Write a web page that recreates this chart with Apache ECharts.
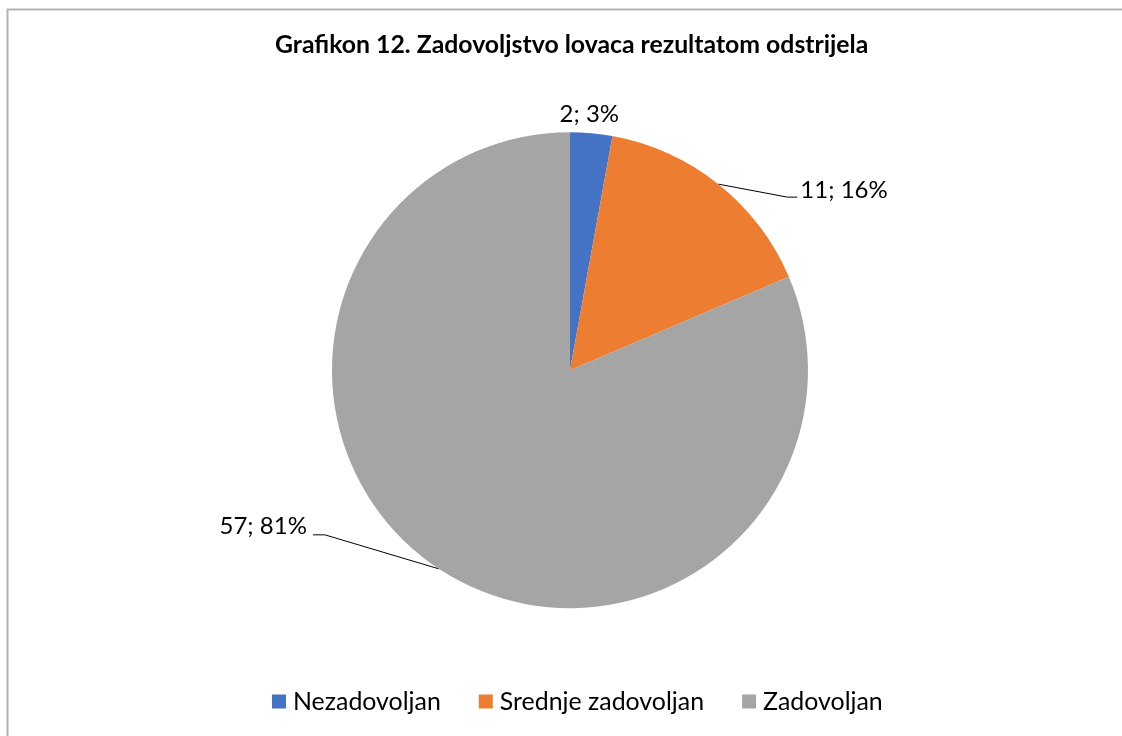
<!DOCTYPE html>
<html>
<head>
<meta charset="utf-8">
<script src="https://cdn.jsdelivr.net/npm/echarts@6/dist/echarts.min.js"></script>
<style>
  html, body { margin: 0; padding: 0; background: #fff; }
  #chart { width: 1122px; height: 736px; }
</style>
</head>
<body>
<div id="chart"></div>
<script>
// podaci s grafikona
const titleText = 'Grafikon 12. Zadovoljstvo lovaca rezultatom odstrijela'
const categories = ['Nezadovoljan', 'Srednje zadovoljan', 'Zadovoljan']
const counts = [2, 11, 57]
const percents = [3, 16, 81]
const colors = ['#4472C4', '#ED7D31', '#A5A5A5']

const fontFamily = 'Lato, "Open Sans", sans-serif'

// pomak natpisa i linije u odnosu na tocku na rubu kruga
const labelOffsets = [
  { x: -2, y: -19, align: 'center', line: null },
  { x: 82, y: 6, align: 'left', line: [[69, 13], [79, 13]] },
  { x: -132, y: -43, align: 'right', line: [[-114, -34], [-126, -34]] }
]

const chart = echarts.init(document.getElementById('chart'))

const option = {
  backgroundColor: '#fff',
  color: colors,
  animation: false,
  graphic: [
    {
      type: 'rect',
      shape: { x: 7.5, y: 9.5, width: 1130, height: 740 },
      style: { fill: 'none', stroke: '#b4b4b4', lineWidth: 2 },
      silent: true
    }
  ],
  title: {
    text: titleText,
    left: 270,
    top: 28,
    textStyle: {
      fontFamily: fontFamily,
      fontWeight: 'bold',
      fontSize: 24.8,
      color: '#000'
    }
  },
  legend: {
    bottom: 17,
    left: 267,
    itemWidth: 14,
    itemHeight: 14,
    itemGap: 38,
    icon: 'rect',
    textStyle: {
      fontFamily: fontFamily,
      fontSize: 24.9,
      color: '#000',
      padding: [0, 0, 0, 2]
    },
    data: categories
  },
  series: [
    {
      type: 'pie',
      center: ['50.8%', '50.3%'],
      radius: 238,
      startAngle: 90,
      clockwise: true,
      avoidLabelOverlap: false,
      label: {
        show: true,
        position: 'outside',
        fontFamily: fontFamily,
        fontSize: 24,
        color: '#000',
        formatter: function (p) {
          return counts[p.dataIndex] + '; ' + percents[p.dataIndex] + '%'
        }
      },
      labelLine: {
        show: true,
        length: 10,
        length2: 10,
        lineStyle: { color: '#000', width: 1 }
      },
      labelLayout: function (params) {
        const off = labelOffsets[params.dataIndex]
        const pts = params.labelLinePoints
        if (!pts || !off) {
          return {}
        }
        const p0 = pts[0]
        const res = {
          x: p0[0] + off.x,
          y: p0[1] + off.y,
          align: off.align,
          verticalAlign: 'middle'
        }
        if (off.line) {
          res.labelLinePoints = [
            [p0[0], p0[1]],
            [p0[0] + off.line[0][0], p0[1] + off.line[0][1]],
            [p0[0] + off.line[1][0], p0[1] + off.line[1][1]]
          ]
        } else {
          res.labelLinePoints = [[p0[0], p0[1]], [p0[0], p0[1]], [p0[0], p0[1]]]
        }
        return res
      },
      itemStyle: { borderWidth: 0 },
      emphasis: { disabled: true },
      data: categories.map(function (name, i) {
        const item = { name: name, value: counts[i] }
        if (i === 0) {
          item.labelLine = { lineStyle: { opacity: 0 } }
        }
        return item
      })
    }
  ]
}

chart.setOption(option)
</script>
</body>
</html>
